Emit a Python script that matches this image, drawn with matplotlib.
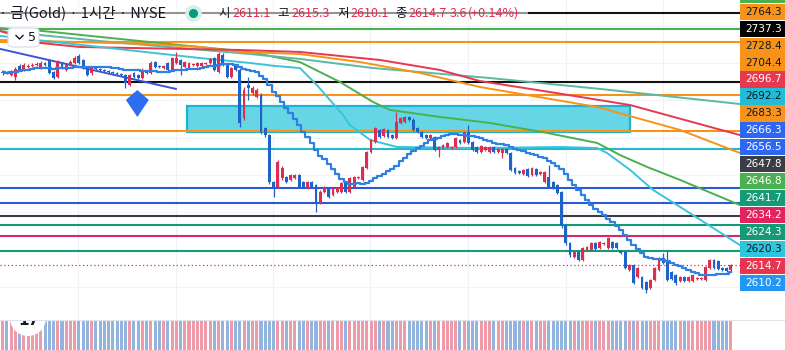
import numpy as np
import pandas as pd
import matplotlib
matplotlib.use("Agg")
import matplotlib.pyplot as plt
from matplotlib.patches import Rectangle, Polygon, Circle, FancyBboxPatch
from matplotlib.lines import Line2D
from matplotlib.transforms import IdentityTransform

# ---- hourly candles (price) ----
opens = [
    2743.4, 2744.0, 2742.0, 2740.7, 2748.1, 2745.4, 2747.4, 2748.1, 2748.7, 2746.7,
    2750.1, 2751.4, 2744.0, 2740.7, 2750.1, 2745.4, 2748.7, 2750.1, 2754.8, 2752.1,
    2746.7, 2743.4, 2746.7, 2746.1, 2745.4, 2744.7, 2744.0, 2743.4, 2742.7, 2742.0,
    2735.3, 2743.4, 2742.0, 2740.0, 2744.0, 2743.4, 2750.7, 2748.1, 2746.7, 2750.1,
    2745.4, 2750.1, 2752.1, 2747.4, 2746.7, 2748.7, 2748.1, 2748.1, 2749.4, 2750.1,
    2753.4, 2744.0, 2755.4, 2748.7, 2740.7, 2748.7, 2745.4, 2713.2, 2735.3, 2730.0,
    2727.3, 2728.6, 2706.5, 2701.8, 2670.3, 2667.0, 2673.0, 2673.7, 2671.7, 2673.0,
    2675.0, 2670.3, 2666.3, 2670.3, 2668.3, 2656.3, 2663.6, 2666.3, 2661.6, 2663.6,
    2663.6, 2669.7, 2663.6, 2667.0, 2673.0, 2671.7, 2679.7, 2690.4, 2697.1, 2705.2,
    2701.2, 2705.2, 2701.8, 2699.8, 2709.9, 2710.5, 2713.9, 2711.9, 2706.5, 2703.8,
    2701.8, 2699.8, 2700.5, 2691.8, 2693.1, 2693.8, 2693.1, 2693.8, 2698.5, 2697.1,
    2703.8, 2697.1, 2693.8, 2690.4, 2691.8, 2690.4, 2693.8, 2690.4, 2689.8, 2692.4,
    2689.8, 2679.7, 2677.7, 2675.7, 2679.0, 2675.0, 2679.0, 2675.7, 2670.3, 2673.7,
    2670.3, 2668.3, 2663.6, 2641.5, 2629.4, 2620.1, 2623.4, 2618.1, 2624.8, 2624.8,
    2629.4, 2626.1, 2628.8, 2626.1, 2630.1, 2629.4, 2624.1, 2623.4, 2611.3, 2614.7,
    2606.7, 2606.7, 2603.3, 2599.3, 2604.6, 2611.3, 2619.4, 2616.7, 2610.0, 2608.0,
    2604.0, 2606.7, 2604.0, 2604.0, 2605.3, 2605.3, 2604.6, 2612.7, 2618.1, 2617.4,
    2612.7, 2612.7, 2611.1,
]
closes = [
    2744.0, 2743.4, 2744.0, 2746.1, 2745.4, 2748.7, 2748.1, 2748.7, 2749.4, 2750.1,
    2748.7, 2743.4, 2740.0, 2750.7, 2746.7, 2748.7, 2750.7, 2753.4, 2750.1, 2746.7,
    2742.0, 2746.7, 2746.1, 2745.4, 2744.7, 2744.0, 2743.4, 2742.7, 2742.0, 2736.7,
    2742.0, 2740.7, 2740.0, 2745.4, 2743.4, 2750.1, 2747.4, 2747.4, 2748.1, 2745.4,
    2753.4, 2753.4, 2748.7, 2750.7, 2750.1, 2749.4, 2750.1, 2750.1, 2750.1, 2752.8,
    2745.4, 2756.1, 2748.7, 2740.7, 2746.7, 2745.4, 2709.9, 2732.0, 2733.3, 2733.3,
    2732.0, 2703.8, 2701.8, 2670.3, 2667.0, 2683.7, 2679.7, 2670.3, 2675.0, 2675.0,
    2667.0, 2667.0, 2670.3, 2667.0, 2656.3, 2663.6, 2667.0, 2660.3, 2666.3, 2666.3,
    2669.7, 2663.6, 2673.0, 2673.7, 2673.7, 2680.4, 2690.4, 2698.5, 2706.5, 2700.5,
    2705.8, 2700.5, 2699.8, 2710.5, 2713.2, 2713.9, 2711.9, 2705.2, 2703.8, 2700.5,
    2699.8, 2701.8, 2691.8, 2693.8, 2695.1, 2696.5, 2693.8, 2699.8, 2696.5, 2703.8,
    2696.5, 2691.8, 2690.4, 2694.5, 2693.8, 2693.8, 2690.4, 2692.4, 2692.4, 2689.8,
    2678.4, 2676.4, 2676.4, 2678.4, 2674.3, 2679.7, 2675.0, 2677.0, 2677.0, 2667.0,
    2666.3, 2663.0, 2640.8, 2629.4, 2621.4, 2623.4, 2618.1, 2626.1, 2626.8, 2629.4,
    2625.4, 2630.1, 2629.4, 2632.8, 2626.1, 2626.1, 2622.7, 2612.7, 2614.7, 2602.6,
    2612.7, 2599.3, 2597.9, 2604.6, 2612.7, 2619.4, 2616.0, 2604.6, 2605.3, 2602.6,
    2606.7, 2604.0, 2606.7, 2608.0, 2606.0, 2606.0, 2613.4, 2618.1, 2612.7, 2612.0,
    2611.3, 2610.7, 2614.7,
]
highs = [
    2745.4, 2744.7, 2745.4, 2747.4, 2749.4, 2750.1, 2749.4, 2750.1, 2750.7, 2751.4,
    2750.7, 2752.8, 2744.7, 2752.1, 2750.7, 2749.4, 2752.1, 2754.8, 2756.1, 2752.8,
    2747.4, 2747.4, 2747.4, 2746.7, 2746.1, 2745.4, 2744.7, 2744.0, 2743.4, 2742.7,
    2742.7, 2744.0, 2742.7, 2746.7, 2744.7, 2751.4, 2751.4, 2748.7, 2748.7, 2750.7,
    2754.1, 2757.5, 2752.8, 2751.4, 2750.7, 2750.1, 2750.7, 2750.7, 2750.7, 2753.4,
    2754.1, 2757.5, 2756.8, 2749.4, 2747.4, 2749.4, 2746.7, 2734.0, 2740.7, 2734.7,
    2733.3, 2730.0, 2707.2, 2702.5, 2671.0, 2685.1, 2681.1, 2674.3, 2675.7, 2675.7,
    2675.7, 2671.0, 2671.0, 2671.0, 2669.0, 2665.0, 2667.6, 2667.0, 2667.0, 2667.0,
    2670.3, 2670.3, 2673.7, 2674.3, 2674.3, 2681.1, 2691.1, 2699.1, 2707.2, 2705.8,
    2706.5, 2705.8, 2702.5, 2717.2, 2713.9, 2714.6, 2714.6, 2713.2, 2707.2, 2704.5,
    2702.5, 2702.5, 2701.2, 2694.5, 2695.8, 2697.1, 2694.5, 2700.5, 2699.1, 2704.5,
    2708.5, 2697.8, 2694.5, 2695.1, 2694.5, 2694.5, 2694.5, 2693.1, 2693.1, 2693.1,
    2690.4, 2680.4, 2678.4, 2679.0, 2679.7, 2680.4, 2679.7, 2677.7, 2677.7, 2681.7,
    2671.0, 2669.0, 2664.3, 2642.2, 2630.1, 2624.1, 2624.1, 2626.8, 2627.4, 2630.1,
    2630.1, 2630.8, 2630.1, 2633.5, 2630.8, 2630.1, 2624.8, 2624.1, 2615.4, 2615.4,
    2613.4, 2607.3, 2604.0, 2605.3, 2613.4, 2620.1, 2622.7, 2624.1, 2610.7, 2608.7,
    2607.3, 2607.3, 2607.3, 2608.7, 2606.7, 2606.7, 2614.0, 2618.7, 2618.7, 2618.1,
    2613.4, 2613.4, 2615.3,
]
lows = [
    2742.0, 2742.7, 2741.4, 2738.7, 2744.7, 2744.7, 2746.7, 2747.4, 2748.1, 2746.1,
    2748.1, 2742.7, 2739.4, 2740.0, 2746.1, 2744.7, 2748.1, 2749.4, 2749.4, 2746.1,
    2741.4, 2742.0, 2745.4, 2744.7, 2744.0, 2743.4, 2742.7, 2742.0, 2741.4, 2733.3,
    2734.7, 2740.0, 2739.4, 2739.4, 2742.7, 2742.7, 2746.7, 2746.7, 2746.1, 2744.7,
    2744.7, 2749.4, 2742.0, 2746.7, 2746.1, 2748.1, 2747.4, 2747.4, 2748.7, 2749.4,
    2744.7, 2743.4, 2748.1, 2740.0, 2740.0, 2744.7, 2707.2, 2711.9, 2725.3, 2728.6,
    2726.6, 2702.5, 2700.5, 2669.0, 2660.3, 2666.3, 2671.7, 2669.7, 2671.0, 2672.3,
    2666.3, 2666.3, 2665.6, 2666.3, 2650.2, 2655.6, 2663.0, 2659.6, 2660.9, 2663.0,
    2663.0, 2663.0, 2663.0, 2666.3, 2672.3, 2671.0, 2679.0, 2689.8, 2696.5, 2699.8,
    2700.5, 2699.8, 2699.1, 2699.1, 2709.2, 2709.9, 2711.2, 2704.5, 2703.2, 2699.8,
    2699.1, 2699.1, 2691.1, 2687.1, 2692.4, 2693.1, 2692.4, 2693.1, 2695.8, 2696.5,
    2695.8, 2691.1, 2689.8, 2689.8, 2691.1, 2689.8, 2689.8, 2689.8, 2686.4, 2689.1,
    2677.7, 2675.7, 2675.7, 2675.0, 2673.7, 2674.3, 2674.3, 2675.0, 2669.7, 2666.3,
    2665.6, 2662.3, 2639.5, 2628.1, 2620.1, 2619.4, 2617.4, 2617.4, 2624.1, 2624.1,
    2624.8, 2625.4, 2628.1, 2625.4, 2625.4, 2625.4, 2622.1, 2612.0, 2610.7, 2602.0,
    2606.0, 2598.6, 2595.9, 2598.6, 2604.0, 2610.7, 2615.4, 2604.0, 2604.6, 2601.3,
    2603.3, 2603.3, 2603.3, 2603.3, 2604.6, 2604.6, 2604.0, 2612.0, 2612.0, 2611.3,
    2610.7, 2610.0, 2610.1,
]

# ---- long moving averages (bar index, price) ----
ma_green_x = [-0.6, 9.5, 34.8, 58.4, 70.2, 79.7, 87.5, 91.5, 103.3, 115.1, 128.6, 140.4, 145.8, 152.2, 160.0, 174.1]
ma_green_y = [2773.5, 2771.5, 2764.1, 2757.5, 2750.7, 2737.3, 2723.9, 2718.6, 2713.9, 2709.9, 2703.2, 2696.5, 2688.4, 2680.4, 2671.7, 2654.9]
ma_teal_x = [-0.6, 23.0, 58.4, 70.2, 87.5, 115.1, 141.1, 174.1]
ma_teal_y = [2771.5, 2764.8, 2756.1, 2752.8, 2746.7, 2740.0, 2732.7, 2722.6]
ma_red_x = [-0.6, 8.8, 18.3, 56.0, 70.2, 89.1, 103.3, 112.7, 129.3, 148.2, 174.1]
ma_red_y = [2771.5, 2763.5, 2760.8, 2758.8, 2757.5, 2752.1, 2745.4, 2738.0, 2730.6, 2721.9, 2701.8]
ma_orange_x = [-0.6, 34.8, 46.6, 56.0, 70.2, 84.4, 98.6, 112.7, 140.4, 160.0, 174.1]
ma_orange_y = [2765.5, 2762.8, 2760.8, 2757.5, 2756.1, 2750.7, 2743.4, 2734.0, 2720.6, 2705.2, 2689.8]
ma_cyan_x = [-0.6, 23.0, 46.6, 58.4, 64.3, 70.2, 74.2, 80.4, 82.0, 86.8, 93.1, 112.7, 131.6, 140.4,
             142.7, 148.2, 153.6, 160.0, 167.8, 174.1]
ma_cyan_y = [2768.2, 2760.8, 2753.4, 2750.1, 2748.1, 2746.7, 2735.3, 2715.2, 2708.5, 2698.5, 2693.8,
             2693.1, 2693.8, 2693.1, 2689.8, 2678.4, 2665.0, 2653.6, 2639.5, 2628.1]

# ---- drawings ----
level_prices = [2783.6, 2772.9, 2764.3, 2737.3, 2728.4, 2704.4, 2692.2, 2666.3, 2656.5, 2647.8, 2641.7, 2634.2, 2624.3]
level_colors = ['#111111', '#4caf50', '#f7931a', '#111111', '#f7931a', '#f7931a', '#22b8d0',
                '#2a5bd7', '#2a5bd7', '#3a3d46', '#149b76', '#d42a6a', '#149b76']
zone_x = [43.5, 148.2]
zone_y = [2703.8, 2721.3]
trend_x = [-0.6, 40.9]
trend_y = [2759.5, 2732.7]
arrow_x = 31.8
arrow_y = [2732.0, 2725.3, 2713.9]   # top, shoulders, tip
day_breaks = [17.8, 40.9, 63.8, 86.7, 109.9, 133.0, 156.0]
grid_prices = [2775, 2750, 2725, 2700, 2675, 2650, 2625, 2600]
last_price = 2614.7

# the first (green) tag is mostly hidden above the top edge, only its box shows
label_values = [None, 2764.3, 2737.3, 2728.4, 2704.4, 2696.7, 2692.2, 2683.3, 2666.3,
                2656.5, 2647.8, 2646.8, 2641.7, 2634.2, 2624.3, 2620.3, 2614.7, 2610.2]
label_bg = ['#4caf50', '#f7931a', '#000000', '#f7931a', '#f7931a', '#e63950', '#22bcd6', '#f7931a', '#2d66f0',
            '#2d66f0', '#3a3d46', '#4caf50', '#149b76', '#e0245e', '#149b76', '#2ec6dc', '#e8344e', '#2196f3']
label_fg = ['white', '#131722', 'white', '#131722', '#131722', 'white', '#131722', '#131722', 'white',
            'white', 'white', 'white', 'white', 'white', 'white', '#131722', 'white', 'white']

UP, DOWN = '#dd2e4f', '#1e64c8'
KR = ['Noto Sans CJK KR', 'DejaVu Sans']

W, H = 785, 350
PLOT_W, MAIN_H = 740, 320
fig = plt.figure(figsize=(W / 100, H / 100), dpi=100)
fig.patch.set_facecolor('white')


def fx(px):
    return px / W


def fy(py):
    return 1 - py / H


ax = fig.add_axes([0, fy(MAIN_H), fx(PLOT_W), MAIN_H / H])
ax_vol = fig.add_axes([0, 0, fx(PLOT_W), (H - MAIN_H) / H])
for a in (ax, ax_vol):
    a.set_axis_off()
    a.set_xlim(-0.64, 174.14)
ax.set_ylim(2577.84, 2792.3)
ax_vol.set_ylim(0, 1)

o, h, l, c = map(np.array, (opens, highs, lows, closes))
idx = np.arange(len(c))
cols = np.where(c >= o, UP, DOWN)

# grid
for d in day_breaks:
    ax.axvline(d, color='#eef1f6', lw=0.8, zorder=0)
for g in grid_prices:
    ax.axhline(g, color='#f1f3f7', lw=0.8, zorder=0)

# zone + levels
ax.add_patch(Rectangle((zone_x[0], zone_y[0]), zone_x[1] - zone_x[0], zone_y[1] - zone_y[0],
                       facecolor='#66d6e6', edgecolor='#1cb4d0', lw=1.6, zorder=1))
for p, col in zip(level_prices, level_colors):
    ax.axhline(p, color=col, lw=1.5, zorder=2)

# moving averages
ax.plot(ma_green_x, ma_green_y, color='#4caf50', lw=1.4, zorder=3)
ax.plot(ma_teal_x, ma_teal_y, color='#5cb8a4', lw=1.4, zorder=3)
ax.plot(ma_orange_x, ma_orange_y, color='#f7931a', lw=1.4, zorder=3)
ax.plot(ma_red_x, ma_red_y, color='#e63950', lw=1.4, zorder=3)
ax.plot(ma_cyan_x, ma_cyan_y, color='#3cc3dc', lw=1.4, zorder=3)
ax.plot(trend_x, trend_y, color='#3a55d6', lw=1.4, zorder=3)

# candles
ax.vlines(idx, l, h, colors=cols, lw=0.9, zorder=4)
ax.bar(idx, np.maximum(np.abs(c - o), 0.4), bottom=np.minimum(o, c), width=0.68,
       color=cols, lw=0, zorder=4)

# 20-bar step average
sma = pd.Series(c).rolling(20, min_periods=1).mean()
ax.plot(idx, sma, drawstyle='steps-mid', color='#2f80e0', lw=1.6, zorder=5)

ax.axhline(last_price, color=UP, lw=0.9, ls=(0, (1, 2)), zorder=5)

# down arrow marker
ax.add_patch(Polygon([(arrow_x, arrow_y[0]), (arrow_x + 2.7, arrow_y[1]), (arrow_x, arrow_y[2]),
                      (arrow_x - 2.7, arrow_y[1])], closed=True, facecolor='#2f6df0',
                     edgecolor='none', zorder=6))

# volume pane (all bars saturate the small pane)
ax_vol.bar(idx, np.ones(len(idx)), width=0.72, color=np.where(c >= o, '#ee9ba9', '#93b5dd'), lw=0)
logo = Circle((28, H - 318), 18, facecolor='white', edgecolor='none', transform=IdentityTransform(), zorder=5)
ax_vol.add_artist(logo)
logo.set_clip_path(ax_vol.patch)
ax_vol.text(29, H - 320.5, '17', transform=IdentityTransform(), ha='center', va='center',
            fontsize=11, fontweight='bold', color='#131722', clip_on=True, zorder=6)
fig.add_artist(Line2D([0, 1], [fy(MAIN_H), fy(MAIN_H)], color='#e0e3eb', lw=0.8))

# price labels on the right
ax_lab = fig.add_axes([fx(PLOT_W), 0, fx(W - PLOT_W), 1])
ax_lab.set_axis_off()
ax_lab.set_xlim(0, W - PLOT_W)
ax_lab.set_ylim(H, 0)
for k, (v, bg, fg) in enumerate(zip(label_values, label_bg, label_fg)):
    cy = -5.25 + 16.95 * k
    ax_lab.add_patch(Rectangle((0, cy - 8.1), W - PLOT_W + 1, 16.2, facecolor=bg, edgecolor='none'))
    if v is not None:
        ax_lab.text(24, cy, f'{v:.1f}', ha='center', va='center', fontsize=7.6, color=fg)

# header
fig.add_artist(Rectangle((0, fy(23)), fx(528), 20 / H, facecolor='white', alpha=0.55,
                         edgecolor='none', zorder=2))
fig.text(fx(-1), fy(13), '· 금(Gold) · 1시간 · NYSE', family=KR, fontsize=10.5,
         color='#131722', ha='left', va='center', zorder=3)
fig.add_artist(Line2D([fx(193)], [fy(13)], marker='o', markersize=11, color='#d5eee8', zorder=3))
fig.add_artist(Line2D([fx(193)], [fy(13)], marker='o', markersize=5.5, color='#089981', zorder=4))
for xp, s, col in [(218, '시', '#131722'), (232, '2611.1', UP), (277, '고', '#131722'),
                   (291, '2615.3', UP), (337, '저', '#131722'), (350, '2610.1', UP),
                   (395, '종', '#131722'), (408, '2614.7', UP), (450, '3.6', UP),
                   (468, '(+0.14%)', UP)]:
    fig.text(fx(xp), fy(13.5), s, family=KR, fontsize=9, color=col, ha='left', va='center', zorder=3)

# collapse button
fig.add_artist(FancyBboxPatch((fx(8), fy(47)), fx(31), 19 / H,
                              boxstyle='round,pad=0,rounding_size=0.008',
                              facecolor='white', edgecolor='#d8dbe3', lw=0.8, zorder=3))
fig.add_artist(Line2D([fx(16), fx(19.5), fx(23)], [fy(35.5), fy(39), fy(35.5)],
                      color='#131722', lw=1.0, zorder=4))
fig.text(fx(28), fy(37.5), '5', fontsize=9, color='#131722', ha='left', va='center', zorder=4)

fig.savefig('out.png', dpi=100, facecolor='white')
